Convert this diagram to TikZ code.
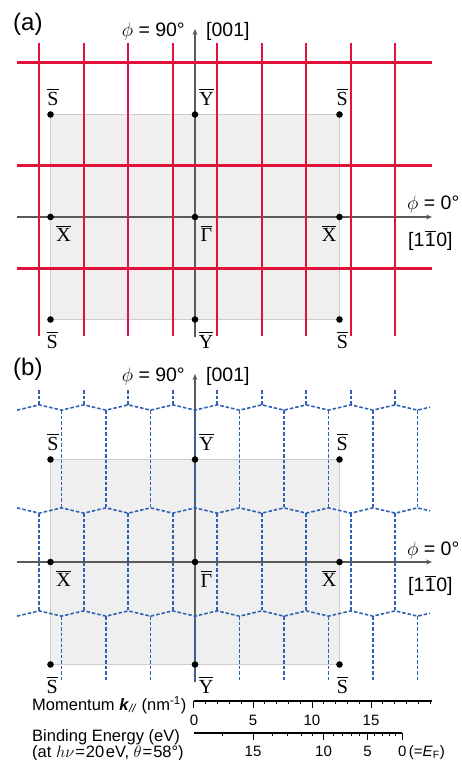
\documentclass[tikz,border=0pt]{standalone}
\usepackage{fix-cm}
\usepackage{fontspec}
\setmainfont{Liberation Sans}
\newfontfamily\lblserif{Liberation Serif}
\usetikzlibrary{arrows.meta,calc}
\definecolor{bzred}{HTML}{E2123C}
\definecolor{bzblue}{HTML}{2F62B3}
\definecolor{axisgray}{HTML}{5A5A5A}
\definecolor{zonefill}{HTML}{EFEFEF}
\definecolor{zoneedge}{HTML}{CDCDCD}
\newcommand{\ksym}[1]{\ensuremath{\overline{\mbox{\rule{0pt}{14.5pt}#1}}}}

\begin{document}
\begin{tikzpicture}[x=1pt, y=1pt, font=\fontsize{19.5}{23}\selectfont,
  zone/.style={fill=zonefill, draw=zoneedge, line width=0.8pt},
  kaxis/.style={draw=axisgray, line width=1.3pt, -{Stealth[length=6pt,width=5pt]}},
  redline/.style={draw=bzred, line width=2.2pt},
  hexline/.style={draw=bzblue, line width=1.6pt, dash pattern=on 3.5pt off 2pt},
  kpt/.style={circle, fill=black, minimum size=6.6pt, inner sep=0pt},
  klab/.style={font=\lblserif\fontsize{20}{24}\selectfont, inner sep=0pt, anchor=base},
  axlab/.style={inner sep=0pt},
  paneltag/.style={font=\fontsize{24}{28}\selectfont, inner sep=0pt, anchor=west},
  barlab/.style={font=\fontsize{16.5}{16.5}\selectfont, inner sep=0pt, anchor=west, align=left},
  scalenum/.style={font=\fontsize{15}{18}\selectfont, inner sep=0pt, anchor=base},
  scaleline/.style={draw=black, line width=1.2pt},
  scaletick/.style={draw=black, line width=1pt}]
\useasboundingbox (-195,217) rectangle (267,-543);
\def\R{2.65}\def\Yb{-345}
% ---------------- zones, axes, panel tags
\foreach \p/\yo in {a/0, b/-345} {
  \draw[zone] (-144.5,\yo-102.5) rectangle (144.5,\yo+102.5);
  \coordinate (xl\p) at (-178,\yo);
  \coordinate (xr\p) at (237,\yo);
  \coordinate (yb\p) at (0,\yo-119.5);
  \coordinate (yt\p) at (0,\yo+188);
  \draw[kaxis] (xl\p) -- (xr\p);
  \draw[kaxis] (yb\p) -- (yt\p);
  \node[axlab, anchor=base east] at ($(yt\p)+(-10,-7.7)$) {$\phi$ = 90°};
  \node[axlab, anchor=base west] at ($(yt\p)+(11,-7.7)$) {[001]};
  \node[axlab, anchor=base west] at ($(xr\p)+(-25,7)$) {$\phi$ = 0°};
  \node[axlab, anchor=base west] at ($(xr\p)+(-24,-29.5)$) {[1\kern0.5pt$\overline{\mbox{1}}$\kern0.5pt0]};
  \node[paneltag] at (-182,\yo+192.3) {(\p)};
}
% ---------------- (a) square lattice
\foreach \m in {-7,-5,...,9} \draw[redline] ({22.25*\m},174) -- ({22.25*\m},-119);
\foreach \r in {154.5,51.5,-51.5} \draw[redline] (-177.7,\r) -- (236.7,\r);
% ---------------- (b) honeycomb
\foreach \r/\s in {154.5/1, 51.5/-1, -51.5/1} {
  \draw[hexline] (-178,{\Yb+(\r)-(\s)*\R})
    \foreach \i in {1,...,18} { -- ({-178+22.25*\i},{\Yb+(\r)+(\s)*\R*(2*mod(\i,2)-1)}) }
    -- (235,{\Yb+(\r)+(\s)*0.33});
}
\foreach \m in {-7,-5,...,9} {
  \draw[hexline] ({22.25*\m},\Yb+172) -- ({22.25*\m},\Yb+154.5+\R);
  \draw[hexline] ({22.25*\m},\Yb+51.5-\R) -- ({22.25*\m},\Yb-51.5+\R);
}
\foreach \k in {-3,...,5} {
  \draw[hexline] ({44.5*\k},\Yb+154.5-\R) -- ({44.5*\k},\Yb+51.5+\R);
  \draw[hexline] ({44.5*\k},\Yb-51.5-\R) -- ({44.5*\k},\Yb-120);
}
% ---------------- symmetry points
\foreach \p/\yo in {a/0, b/-345} {
  \node[kpt] (S1\p) at (-144.5,\yo+102.5) {};
  \node[kpt] (Y1\p) at (0,\yo+102.5) {};
  \node[kpt] (S2\p) at (144.5,\yo+102.5) {};
  \node[kpt] (X1\p) at (-144.5,\yo) {};
  \node[kpt] (G\p) at (0,\yo) {};
  \node[kpt] (X2\p) at (144.5,\yo) {};
  \node[kpt] (S3\p) at (-144.5,\yo-102.5) {};
  \node[kpt] (Y2\p) at (0,\yo-102.5) {};
  \node[kpt] (S4\p) at (144.5,\yo-102.5) {};
  \node[klab] at ($(S1\p)+(2.5,9)$) {\ksym{S}};
  \node[klab] at ($(Y1\p)+(11.5,9)$) {\ksym{Y}};
  \node[klab] at ($(S2\p)+(2.7,9)$) {\ksym{S}};
  \node[klab] at ($(X1\p)+(13,-24.7)$) {\ksym{X}};
  \node[klab] at ($(G\p)+(11.3,-25)$) {\ksym{Γ}};
  \node[klab] at ($(X2\p)+(-10.3,-24.7)$) {\ksym{X}};
  \node[klab] at ($(S3\p)+(1.7,-29)$) {\ksym{S}};
  \node[klab] at ($(Y2\p)+(11,-29)$) {\ksym{Y}};
  \node[klab] at ($(S4\p)+(3,-29)$) {\ksym{S}};
}
% ---------------- scales
\node[barlab] (kname) at (-163,-488) {Momentum \textbf{\textit{k}}\textsubscript{\textit{//}} (nm\textsuperscript{-1})};
\node[barlab] (ename) at (-163,-528) {Binding Energy (eV)\\(at $h\nu$\kern1pt=\kern1pt20\kern1.5pt eV, $\theta$\kern1pt=\kern1pt58°)};
\coordinate (k0) at (-1,-484);
\coordinate (kend) at (236.7,-484);
\draw[scaleline] (k0) -- (kend);
\foreach \k in {0,...,20} \draw[scaletick] ({-1+11.8*\k},-484) -- ++(0,-3.3);
\foreach \k in {0,5,10,15} {
  \draw[scaletick] ({-1+11.8*\k},-484) -- ++(0,-6.5);
  \node[scalenum] at ({-1+11.8*\k},-508) {\k};
}
\coordinate (e0) at (-1,-516);
\coordinate (eF) at ({51.58*sqrt(16.31)-1},-516);
\draw[scaleline] (e0) -- (eF);
\foreach \e in {0,...,16} \draw[scaletick] ({51.58*sqrt(16.31-\e)-1},-516) -- ++(0,-3.3);
\foreach \e/\t in {15/15, 10/10, 5/5, 0/{0\rlap{\,(=\textit{E}\textsubscript{F})}}} {
  \draw[scaletick] ({51.58*sqrt(16.31-\e)-1},-516) -- ++(0,-6.5);
  \node[scalenum] at ({51.58*sqrt(16.31-\e)-1},-539) {\t};
}
\end{tikzpicture}
\end{document}
